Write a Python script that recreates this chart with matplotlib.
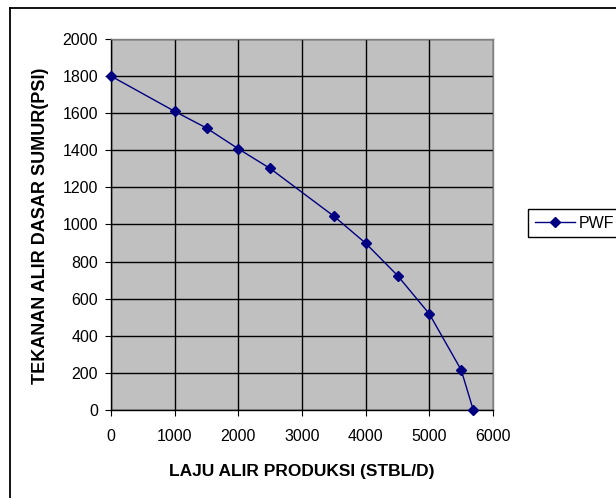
import matplotlib
matplotlib.use("Agg")
import matplotlib.pyplot as plt
from matplotlib.lines import Line2D

plt.rcParams['font.family'] = ['Liberation Sans', 'DejaVu Sans']

# Data
q_stbl = [0, 1000, 1500, 2000, 2500, 3500, 4000, 4500, 5000, 5500, 5690]
pwf_psi = [1800, 1610, 1520, 1408, 1302, 1045, 899, 725, 518, 216, 0]
series_name = "PWF"
x_ticks = [0, 1000, 2000, 3000, 4000, 5000, 6000]
y_ticks = [0, 200, 400, 600, 800, 1000, 1200, 1400, 1600, 1800, 2000]
x_title = "LAJU ALIR PRODUKSI (STBL/D)"
y_title = "TEKANAN ALIR DASAR SUMUR(PSI)"

W, H = 616, 498
fig = plt.figure(figsize=(W / 100, H / 100), dpi=100)
fig.patch.set_facecolor('white')

L, R, T, B = 111, 493, 39, 410
ax = fig.add_axes([L / W, (H - B) / H, (R - L) / W, (B - T) / H])
ax.set_facecolor('#C0C0C0')

ax.plot(q_stbl, pwf_psi, color='#000080', lw=1.0, marker='D',
        markersize=5.2, markerfacecolor='#000080', markeredgecolor='#000080',
        label=series_name, clip_on=False, zorder=5)

ax.set_xlim(0, 6000)
ax.set_ylim(0, 2000)
ax.set_xticks(x_ticks)
ax.set_yticks(y_ticks)
ax.set_xticklabels([str(v) for v in x_ticks])
ax.set_yticklabels([str(v) for v in y_ticks])

ax.grid(True, color='black', lw=1.0)
ax.set_axisbelow(True)

for s in ['left', 'bottom']:
    ax.spines[s].set_color('black')
    ax.spines[s].set_linewidth(1.0)
for s in ['top', 'right']:
    ax.spines[s].set_color('#808080')
    ax.spines[s].set_linewidth(1.0)

ax.tick_params(axis='both', direction='out', length=4.3, width=0.8,
               color='black', labelsize=11.5, labelcolor='black')
ax.tick_params(axis='y', pad=5.0)
ax.tick_params(axis='x', pad=9.5)

ax.set_xlabel(x_title, fontsize=12.5, fontweight='bold', va='center', ha='center')
ax.set_ylabel(y_title, fontsize=13, fontweight='bold', va='center', ha='center')
ax.xaxis.set_label_coords(0.5, (B - 471) / (B - T))
ax.yaxis.set_label_coords((41 - L) / (R - L), (B - 226) / (B - T))

leg = ax.legend(loc='center left', bbox_to_anchor=(528 / W, (H - 223) / H),
                bbox_transform=fig.transFigure, frameon=True, fancybox=False,
                fontsize=11.5, handlelength=2.5, handletextpad=0.25,
                borderpad=0.42, borderaxespad=0.0)
frame = leg.get_frame()
frame.set_edgecolor('black')
frame.set_linewidth(1.0)
frame.set_facecolor('white')
frame.set_alpha(1)

# outer chart border (left and top visible)
fig.add_artist(Line2D([10 / W, 10 / W], [(H - 8) / H, 0], transform=fig.transFigure,
                      color='black', lw=1.3))
fig.add_artist(Line2D([10 / W, 1], [(H - 8) / H, (H - 8) / H], transform=fig.transFigure,
                      color='black', lw=1.3))

fig.savefig('out.png', dpi=100, facecolor='white')
